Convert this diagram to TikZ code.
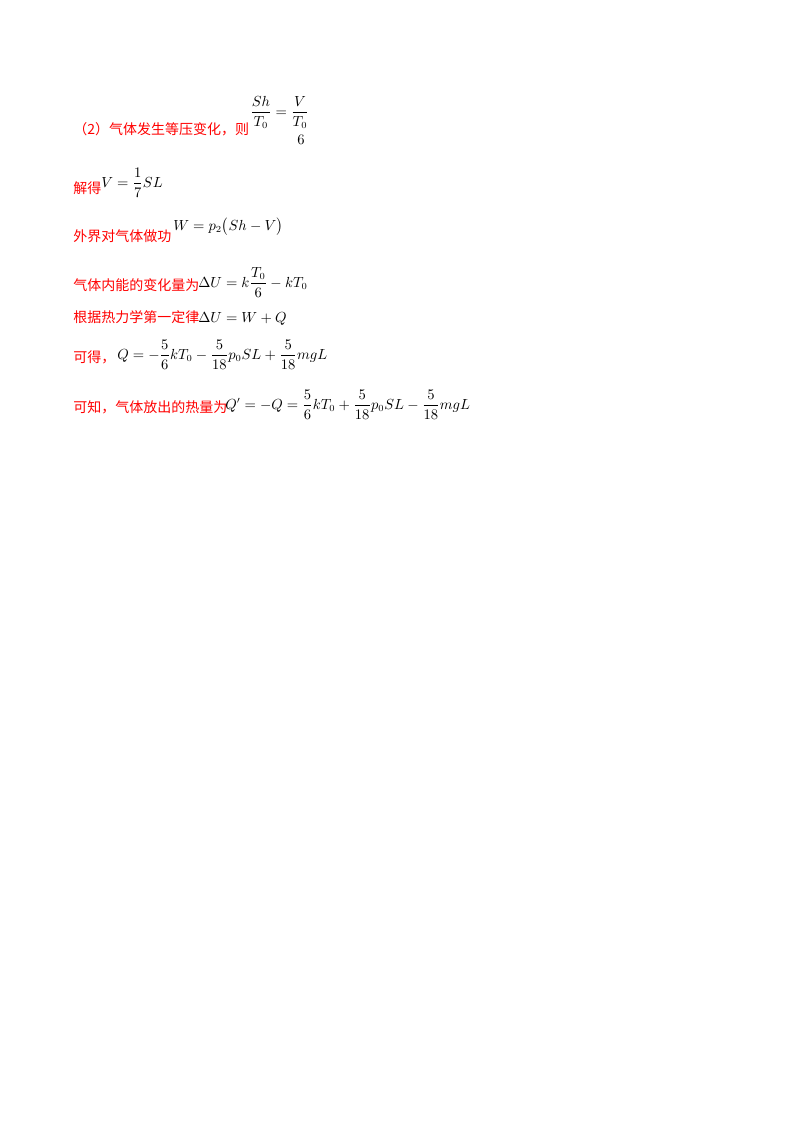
\documentclass[tikz,border=0pt]{standalone}
\usepackage{amsmath}
\usepackage{fontspec}
\newfontfamily\cjk{Noto Sans CJK SC}
\begin{document}
\begin{tikzpicture}[x=0.75pt,y=-0.75pt,
  cn/.style={anchor=base west,inner sep=0pt,text=red,font=\cjk\fontsize{10.5}{12}\selectfont},
  mth/.style={anchor=base west,inner sep=0pt,font=\fontsize{10.5}{12}\selectfont}]
\useasboundingbox (0,0) rectangle (800,1132);
\node[cn] (l1) at (73,134) {（2）气体发生等压变化，则};
\node[mth] (m1) at (250,116) {$\dfrac{Sh}{T_0}=\dfrac{V}{T_0}$};
\node[mth,anchor=base] (m1b) at (m1.south east) [yshift=-12pt,xshift=-6pt] {$6$};
\node[cn] (l2) at (73,193) {解得};
\node[mth] (m2) at (101,187) {$V=\dfrac{1}{7}SL$};
\node[cn] (l3) at (73,241) {外界对气体做功};
\node[mth] (m3) at (173,230) {$W=p_2\bigl(Sh-V\bigr)$};
\node[cn] (l4) at (73,290) {气体内能的变化量为};
\node[mth] (m4) at (198,287) {$\Delta U=k\dfrac{T_0}{6}-kT_0$};
\node[cn] (l5) at (73,322) {根据热力学第一定律};
\node[mth] (m5) at (198,322) {$\Delta U=W+Q$};
\node[cn] (l6) at (73,362) {可得，};
\node[mth] (m6) at (117,359) {$Q=-\dfrac{5}{6}kT_0-\dfrac{5}{18}p_0SL+\dfrac{5}{18}mgL$};
\node[cn] (l7) at (73,412) {可知，气体放出的热量为};
\node[mth] (m7) at (225,409) {$Q'=-Q=\dfrac{5}{6}kT_0+\dfrac{5}{18}p_0SL-\dfrac{5}{18}mgL$};
\end{tikzpicture}
\end{document}
